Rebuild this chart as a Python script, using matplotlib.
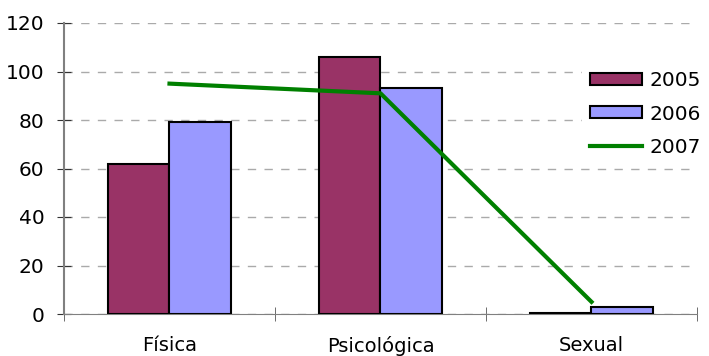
import matplotlib
matplotlib.use("Agg")
import matplotlib.pyplot as plt
import numpy as np
from matplotlib.lines import Line2D
from matplotlib.patches import Patch

categories = ["Física", "Psicológica", "Sexual"]
v2005 = [62, 106, 0.5]
v2006 = [79, 93, 3]
v2007 = [95, 91, 5]
yticks = [0, 20, 40, 60, 80, 100, 120]

plt.rcParams['font.family'] = ['DejaVu Sans']
fig = plt.figure(figsize=(7.09, 3.56), dpi=100)
ax = fig.add_axes([64/709, 42/356, (697-64)/709, (314-23)/356])

x = np.arange(len(categories))
w = 0.29
ax.bar(x - w/2, v2005, w, color="#993366", edgecolor="black", linewidth=1.5, zorder=3)
ax.bar(x + w/2, v2006, w, color="#9999FF", edgecolor="black", linewidth=1.5, zorder=3)
ax.plot(x, v2007, color="#008000", linewidth=3, zorder=4)

ax.set_xlim(-0.5, 2.5)
ax.set_ylim(0, 120)
ax.set_yticks(yticks)
ax.set_yticklabels([str(t) for t in yticks], fontsize=14.5)
ax.set_xticks(x)
ax.set_xticklabels(categories, fontsize=14)
ax.tick_params(axis='x', length=0, pad=16)
ax.set_xticks([-0.5, 0.5, 1.5, 2.5], minor=True)
ax.tick_params(axis='x', which='minor', direction='inout', length=10, color='#555555')
ax.tick_params(axis='y', direction='inout', length=10, color='#333333', pad=9)
ax.yaxis.grid(True, linestyle=(0, (6, 6)), color="#aaaaaa", linewidth=1, zorder=0)
ax.set_axisbelow(True)
for s in ['top', 'right']:
    ax.spines[s].set_visible(False)
ax.spines['left'].set_color('#808080')
ax.spines['bottom'].set_color('#808080')
ax.spines['left'].set_linewidth(1.5)

handles = [Patch(facecolor="#993366", edgecolor="black", linewidth=1.5),
           Patch(facecolor="#9999FF", edgecolor="black", linewidth=1.5),
           Line2D([], [], color="#008000", linewidth=3)]
leg = fig.legend(handles, ["2005", "2006", "2007"], loc="upper left",
                 bbox_to_anchor=(582/709, 1 - 63/356), frameon=True, fontsize=14.5,
                 handlelength=2.6, handleheight=0.55, handletextpad=0.35,
                 labelspacing=0.72, borderpad=0.4, borderaxespad=0)
leg.get_frame().set_edgecolor("white")
leg.get_frame().set_facecolor("white")
leg.get_frame().set_alpha(1)

fig.savefig("out.png", dpi=100)
